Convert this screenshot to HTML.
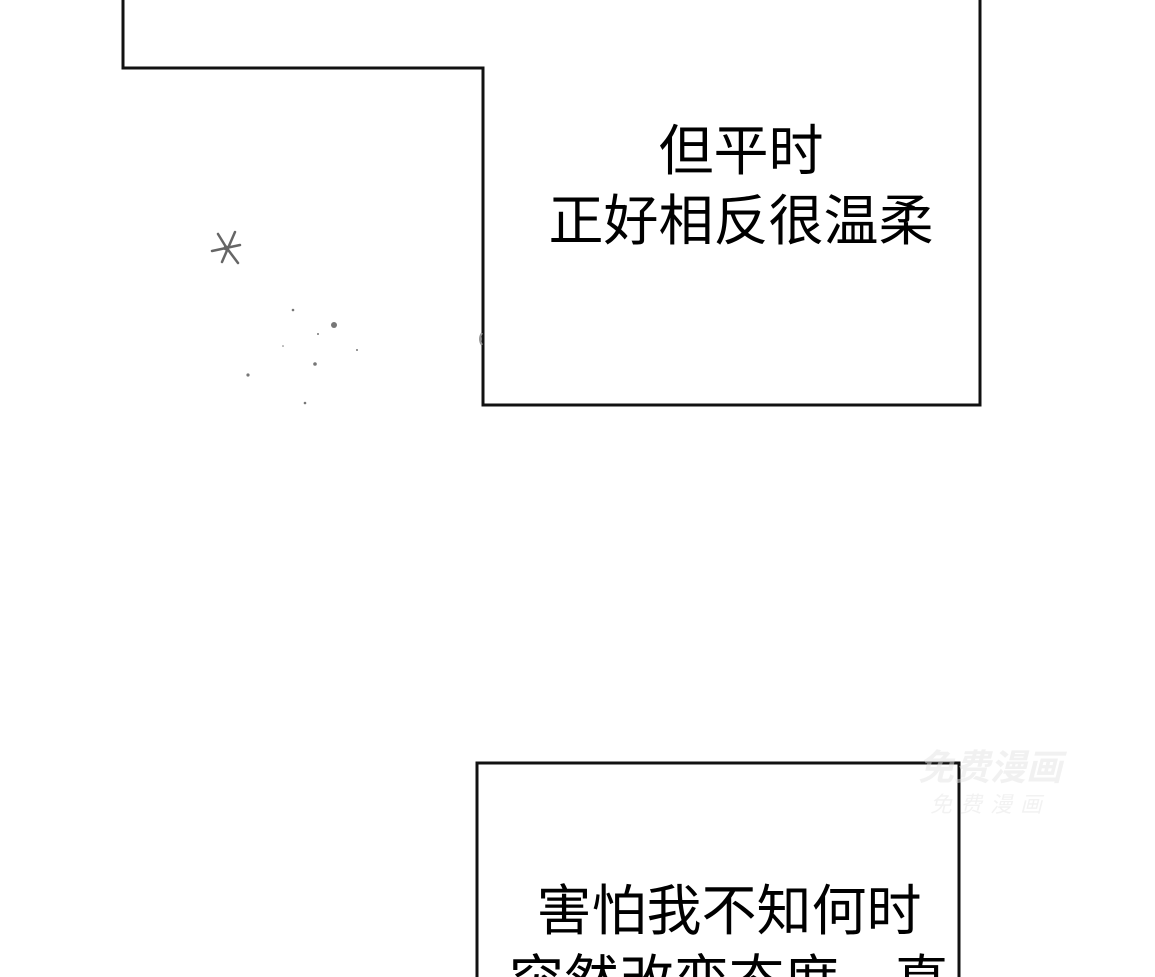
<!DOCTYPE html>
<html><head><meta charset="utf-8"><style>
html,body{margin:0;padding:0;background:#fff;width:1155px;height:977px;overflow:hidden}
text{font-family:"Liberation Sans","Noto Sans CJK SC",sans-serif;fill:#000}
</style></head><body>
<svg width="1155" height="977" viewBox="0 0 1155 977" xmlns="http://www.w3.org/2000/svg">
<polygon points="123,-5 123,68 483,68 483,405 980,405 980,-5" fill="#fff" stroke="#111" stroke-width="3"/>
<text x="741" y="170" font-size="55" text-anchor="middle">但平时</text>
<text x="741" y="240" font-size="55" text-anchor="middle">正好相反很温柔</text>
<g stroke="#666" stroke-width="2.5" stroke-linecap="round">
<line x1="218" y1="234" x2="226" y2="247"/><line x1="226" y1="247" x2="238" y2="263"/>
<line x1="235" y1="232" x2="222" y2="262"/><line x1="212" y1="251" x2="240" y2="245"/>
</g>
<circle cx="226" cy="248" r="2.5" fill="#666"/>
<g fill="#777">
<circle cx="334" cy="325" r="3"/><circle cx="293" cy="310" r="1.3"/><circle cx="318" cy="334" r="1"/>
<circle cx="315" cy="364" r="1.8"/><circle cx="248" cy="375" r="1.6"/><circle cx="305" cy="403" r="1.3"/>
<circle cx="357" cy="350" r="1"/><circle cx="283" cy="346" r="0.8"/>
</g>
<path d="M482 333 q-4 6 0 12" stroke="#999" stroke-width="2" fill="none"/>
<rect x="477" y="763" width="482" height="260" fill="#fff" stroke="#111" stroke-width="3"/>
<text x="729" y="930" font-size="55" text-anchor="middle">害怕我不知何时</text>
<text x="729" y="1000" font-size="55" text-anchor="middle">突然改变态度，真</text>
<g opacity="0.5">
<text x="990" y="780" font-size="36" font-weight="bold" text-anchor="middle" style="fill:#e4e4e4;font-style:italic">免费漫画</text>
<text x="990" y="812" font-size="22" text-anchor="middle" style="fill:#e6e6e6;letter-spacing:8px;font-style:italic">免费漫画</text>
</g>
</svg>
</body></html>
